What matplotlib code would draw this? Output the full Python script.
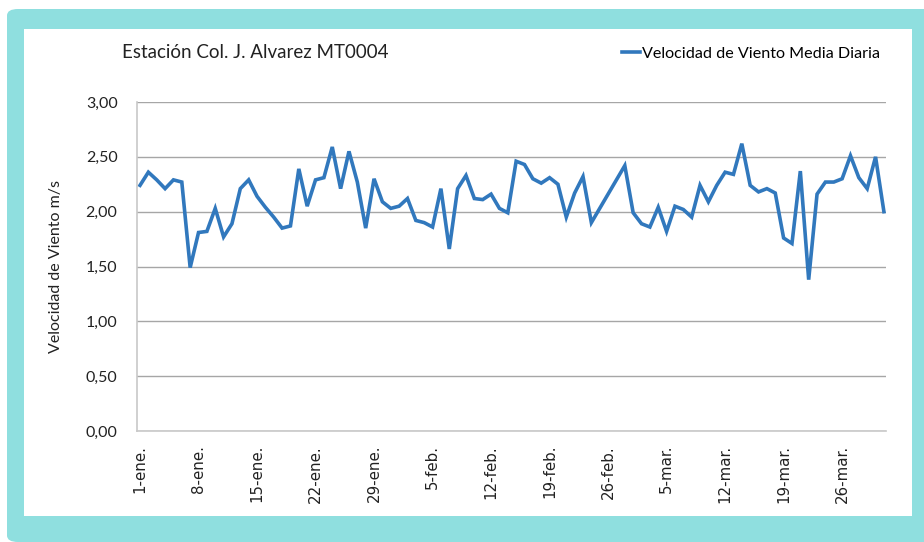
"""Daily mean wind speed, Jan-Mar, station Col. J. Alvarez MT0004."""

import matplotlib

matplotlib.use("Agg")
import matplotlib.pyplot as plt
from matplotlib.patches import FancyBboxPatch, Rectangle

# daily mean wind speed (m/s), 1-ene .. 31-mar
wind_speed = [
    2.24, 2.36, 2.29, 2.21, 2.29, 2.27, 1.49, 1.81, 1.82, 2.03,
    1.77, 1.89, 2.21, 2.29, 2.14, 2.04, 1.95, 1.85, 1.87, 2.39,
    2.05, 2.29, 2.31, 2.59, 2.21, 2.55, 2.27, 1.85, 2.30, 2.09,
    2.03, 2.05, 2.12, 1.92, 1.90, 1.86, 2.21, 1.66, 2.21, 2.33,
    2.12, 2.11, 2.16, 2.03, 1.99, 2.46, 2.43, 2.30, 2.26, 2.31,
    2.25, 1.95, 2.17, 2.32, 1.90, 2.03, 2.16, 2.29, 2.42, 1.99,
    1.89, 1.86, 2.04, 1.82, 2.05, 2.02, 1.95, 2.24, 2.09, 2.24,
    2.36, 2.34, 2.62, 2.24, 2.18, 2.21, 2.17, 1.76, 1.71, 2.37,
    1.38, 2.16, 2.27, 2.27, 2.30, 2.51, 2.31, 2.21, 2.50, 2.00,
]
tick_labels = [
    "1-ene.", "8-ene.", "15-ene.", "22-ene.", "29-ene.", "5-feb.", "12-feb.",
    "19-feb.", "26-feb.", "5-mar.", "12-mar.", "19-mar.", "26-mar.",
]
y_ticks = [0.0, 0.5, 1.0, 1.5, 2.0, 2.5, 3.0]

W, H = 924, 542
fig = plt.figure(figsize=(W / 100, H / 100), dpi=100)
fig.patch.set_facecolor("white")

# teal frame and white panel (pixel coords converted to figure fraction)
teal = "#8fdfdf"
fig.patches.append(FancyBboxPatch(
    (7 / W, 0), (W + 20 - 7) / W, (H - 9) / H,
    boxstyle="round,pad=0,rounding_size=0.012",
    transform=fig.transFigure, facecolor=teal, edgecolor="none", zorder=-2))
fig.patches.append(Rectangle(
    (24 / W, (H - 516) / H), (912 - 24) / W, (516 - 29) / H,
    transform=fig.transFigure, facecolor="white", edgecolor="none", zorder=-1))

ax = fig.add_axes([137 / W, 1 - 431 / H, (886 - 137) / W, (431 - 102) / H])
ax.set_facecolor("none")

days = list(range(len(wind_speed)))
ax.plot(days, wind_speed, color="#3178bd", linewidth=2.6,
        solid_joinstyle="miter", label="Velocidad de Viento Media Diaria")

ax.set_xlim(-0.36, 89.25)
ax.set_ylim(0, 3.0)
ax.set_yticks(y_ticks)
ax.set_yticklabels([f"{v:.2f}".replace(".", ",") for v in y_ticks],
                   fontsize=11.5, family="Lato", color="#222222")
ax.set_xticks(range(0, 7 * len(tick_labels), 7))
ax.set_xticklabels(tick_labels, rotation=90, fontsize=10.8,
                   family="DejaVu Sans", color="#222222")
ax.tick_params(length=0)
ax.tick_params(axis="y", pad=14)
ax.tick_params(axis="x", pad=10)

ax.grid(axis="y", color="#a6a6a6", linewidth=1)
ax.set_axisbelow(True)
for side in ("top", "right"):
    ax.spines[side].set_visible(False)
for side in ("left", "bottom"):
    ax.spines[side].set_color("#c8c8c8")
    ax.spines[side].set_linewidth(1.2)

ax.set_ylabel("Velocidad de Viento m/s", fontsize=11.5, family="Lato",
              color="#222222", labelpad=16)

fig.text(122 / W, 1 - 53 / H, "Estación Col. J. Alvarez MT0004",
         fontsize=13.5, family="Lato", color="#222222", va="center")
ax.legend(loc="center right", bbox_to_anchor=(886 / W, 1 - 54 / H),
          bbox_transform=fig.transFigure, frameon=False, handlelength=1.1,
          handletextpad=0.1, borderaxespad=0,
          prop={"family": "Lato", "size": 11.6})

fig.savefig("out.png", dpi=100)
